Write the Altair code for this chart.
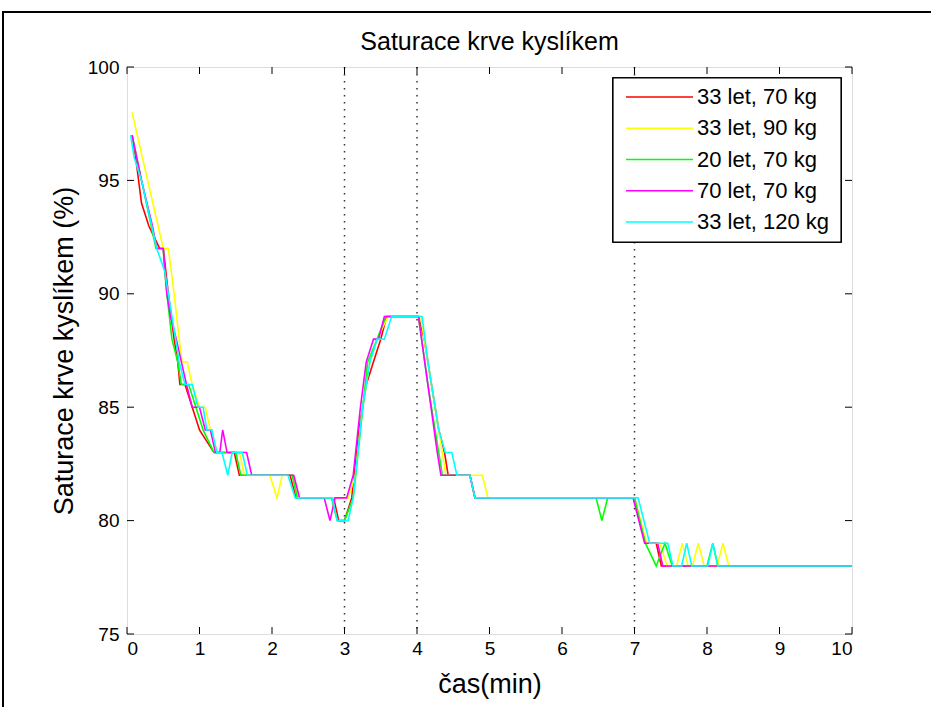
import altair as alt
import pandas as pd

names = ["33 let, 70 kg", "33 let, 90 kg", "20 let, 70 kg", "70 let, 70 kg", "33 let, 120 kg"]
colors = ["#FF0000", "#FFFF00", "#00FF00", "#FF00FF", "#00FFFF"]
chart_title = "Saturace krve kyslíkem"
x_title = "čas(min)"
y_title = "Saturace krve kyslíkem (%)"

red_t = [0.07, 0.12, 0.2, 0.3, 0.45, 0.5, 0.57, 0.65, 0.7, 0.73, 0.8, 0.9, 1.0, 1.2, 1.48, 1.55, 2.25, 2.33,
         2.85, 2.92, 3.0, 3.1, 3.2, 3.3, 3.4, 3.5, 3.58, 4.02, 4.1, 4.2, 4.3, 4.38, 4.43, 4.73, 4.8,
         7.0, 7.15, 7.3, 7.37, 10.0]
red_v = [97, 96, 94, 93, 92, 92, 90, 88, 87, 86, 86, 85, 84, 83, 83, 82, 82, 81,
         81, 80, 80, 81, 84, 86, 87, 88, 89, 89, 88, 86, 84, 83, 82, 82, 81,
         81, 79, 79, 78, 78]

yel_t = [0.07, 0.5, 0.57, 0.65, 0.72, 0.76, 0.83, 0.9, 1.0, 1.08, 1.15, 1.25, 1.55, 1.62, 1.97, 2.07, 2.14,
         2.28, 2.36, 3.05, 3.15, 3.25, 3.35, 3.45, 3.6, 4.05, 4.15, 4.3, 4.4, 4.9, 4.98,
         7.0, 7.17, 7.35, 7.45, 7.58, 7.66, 7.74, 7.8, 7.88, 7.96, 8.14, 8.22, 8.3, 10.0]
yel_v = [98, 92, 92, 90, 88, 87, 87, 86, 85, 85, 84, 83, 83, 82, 82, 81, 82,
         82, 81, 81, 82, 85, 87, 88, 89, 89, 87, 84, 82, 82, 81,
         81, 79, 79, 78, 78, 79, 78, 78, 79, 78, 78, 79, 78, 78]

grn_t = [0.07, 0.2, 0.4, 0.5, 0.52, 0.55, 0.62, 0.7, 0.75, 0.85, 0.95, 1.05, 1.2, 1.5, 1.57, 2.28, 2.35,
         2.82, 2.9, 3.0, 3.12, 3.22, 3.32, 3.45, 3.57, 4.02, 4.15, 4.3, 4.35, 4.73, 4.8,
         6.47, 6.55, 6.63, 7.0, 7.15, 7.3, 7.42, 7.52, 8.0, 8.08, 8.15, 10.0]
grn_v = [97, 95, 92, 92, 91, 90, 88, 87, 86, 86, 85, 84, 83, 83, 82, 82, 81,
         81, 80, 80, 81, 84, 87, 88, 89, 89, 86, 83, 82, 82, 81,
         81, 80, 81, 81, 79, 78, 79, 78, 78, 79, 78, 78]

mag_t = [0.07, 0.2, 0.35, 0.41, 0.5, 0.55, 0.6, 0.68, 0.75, 0.82, 0.9, 1.0, 1.08, 1.15, 1.22, 1.28, 1.32, 1.38,
         1.65, 1.72, 2.3, 2.38, 2.72, 2.8, 2.87, 3.03, 3.12, 3.22, 3.3, 3.4, 3.47, 3.55,
         4.02, 4.15, 4.28, 4.33, 4.73, 4.8, 6.98, 7.14, 7.32, 7.39, 10.0]
mag_v = [97, 95, 93, 92, 92, 90, 89, 88, 87, 86, 85, 85, 84, 84, 83, 83, 84, 83,
         83, 82, 82, 81, 81, 80, 81, 81, 82, 85, 87, 88, 88, 89,
         89, 86, 83, 82, 82, 81, 81, 79, 79, 78, 78]

cyn_t = [0.05, 0.1, 0.2, 0.41, 0.52, 0.62, 0.72, 0.8, 0.9, 0.98, 1.05, 1.1, 1.17, 1.24, 1.31, 1.39, 1.45, 1.59,
         1.66, 2.22, 2.32, 2.83, 2.9, 3.05, 3.12, 3.25, 3.35, 3.45, 3.55, 3.65,
         4.07, 4.15, 4.3, 4.39, 4.48, 4.55, 4.73, 4.8,
         7.05, 7.21, 7.46, 7.53, 7.65, 7.72, 7.79, 8.01, 8.08, 8.15, 10.0]
cyn_v = [97, 96, 95, 92, 91, 89, 87, 86, 86, 85, 85, 84, 84, 83, 83, 82, 83, 83,
         82, 82, 81, 81, 80, 80, 81, 85, 87, 88, 88, 89,
         89, 87, 84, 83, 83, 82, 82, 81,
         81, 79, 79, 78, 78, 79, 78, 78, 79, 78, 78]

series_t = [red_t, yel_t, grn_t, mag_t, cyn_t]
series_v = [red_v, yel_v, grn_v, mag_v, cyn_v]

markers = [3, 4, 7]
x_ticks = list(range(0, 11))
y_ticks = [75, 80, 85, 90, 95, 100]

rows = []
for k, (name, ts, vs) in enumerate(zip(names, series_t, series_v)):
    for i, (t, v) in enumerate(zip(ts, vs)):
        rows.append({"serie": name, "k": k, "i": i, "t": t, "v": v})
df = pd.DataFrame(rows)

W, H = 725, 567
FONT = "Liberation Sans"

xs = alt.Scale(domain=[0, 10], nice=False, zero=False)
ys = alt.Scale(domain=[75, 100], nice=False, zero=False)
cs = alt.Scale(domain=names, range=colors)

x_axis = alt.Axis(values=x_ticks, title=x_title, ticks=False, tickSize=0, domain=False, grid=False,
                  labelPadding=5, labelFontSize=19, labelFont=FONT, labelColor="black",
                  titleFontSize=27, titleFont=FONT, titleFontWeight="normal", titleColor="black",
                  titlePadding=13, format="d")
y_axis = alt.Axis(values=y_ticks, title=y_title, ticks=False, tickSize=0, domain=False, grid=False,
                  labelPadding=8, labelFontSize=19, labelFont=FONT, labelColor="black",
                  titleFontSize=27, titleFont=FONT, titleFontWeight="normal", titleColor="black",
                  titlePadding=9)

X = alt.X("t:Q", scale=xs, axis=x_axis)

lines = alt.Chart(df).mark_line(strokeWidth=1.6, clip=True).encode(
    x=X,
    y=alt.Y("v:Q", scale=ys, axis=y_axis),
    color=alt.Color("serie:N", scale=cs, legend=None),
    detail="k:N",
    order="i:Q",
)

vlines = alt.Chart(pd.DataFrame({"t": markers})).mark_rule(
    color="#333333", strokeWidth=1.5, strokeDash=[1.5, 5.5]
).encode(x=X)

xt = pd.DataFrame({"t": x_ticks})
yt = pd.DataFrame({"v": y_ticks})
tick_style = dict(color="black", strokeWidth=1)
xtick_b = alt.Chart(xt).mark_rule(**tick_style).encode(x=X, y=alt.value(H), y2=alt.value(H - 7))
xtick_t = alt.Chart(xt).mark_rule(**tick_style).encode(x=X, y=alt.value(0), y2=alt.value(7))
ytick_l = alt.Chart(yt).mark_rule(**tick_style).encode(
    y=alt.Y("v:Q", scale=ys, axis=None), x=alt.value(0), x2=alt.value(7))
ytick_r = alt.Chart(yt).mark_rule(**tick_style).encode(
    y=alt.Y("v:Q", scale=ys, axis=None), x=alt.value(W), x2=alt.value(W - 7))

leg_df = pd.DataFrame({"serie": names})
leg_box = alt.Chart(leg_df).mark_rect(fill="white", stroke="black", strokeWidth=1.2).encode(
    x=alt.value(486), x2=alt.value(714), y=alt.value(11), y2=alt.value(175))
leg_y = alt.Y("serie:O", scale=alt.Scale(type="point", domain=names, range=[30, 155], padding=0), axis=None)
leg_lines = alt.Chart(leg_df).mark_rule(strokeWidth=1.6).encode(
    y=leg_y, x=alt.value(499), x2=alt.value(566),
    color=alt.Color("serie:N", scale=cs, legend=None))
leg_text = alt.Chart(leg_df).mark_text(align="left", baseline="middle", font=FONT, fontSize=22,
                                        color="black").encode(
    y=leg_y, x=alt.value(570), text="serie:N")

title_mark = alt.Chart(pd.DataFrame({"s": [chart_title]})).mark_text(
    align="center", baseline="middle", font=FONT, fontSize=25, color="black"
).encode(x=alt.value(W / 2), y=alt.value(-25), text="s:N")

frame = alt.Chart(leg_df).mark_rect(fill=None, stroke="black", strokeWidth=2).encode(
    x=alt.value(-124), x2=alt.value(900), y=alt.value(-55), y2=alt.value(700))

chart = alt.layer(
    frame, vlines, lines, xtick_b, xtick_t, ytick_l, ytick_r, leg_box, leg_lines, leg_text, title_mark
).resolve_scale(y="independent").properties(
    width=W, height=H,
    autosize=alt.AutoSizeParams(type="none"),
    padding={"left": 127, "top": 67, "right": 79, "bottom": 73},
).configure_view(stroke="black", strokeWidth=1.2).configure(background="white")

chart.save("out.html", embed_options={"renderer": "svg", "actions": False})
